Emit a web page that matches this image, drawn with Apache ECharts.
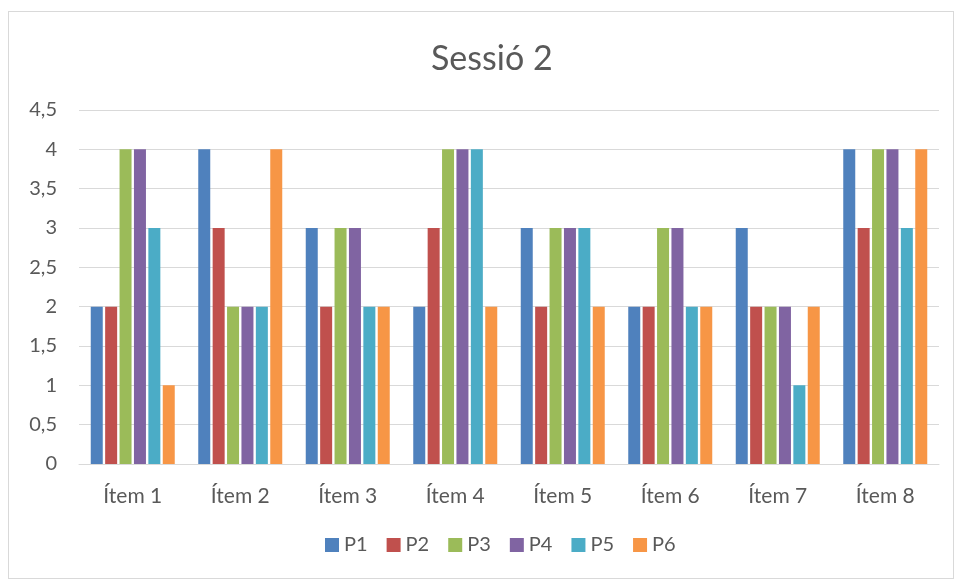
<!DOCTYPE html>
<html>
<head>
<meta charset="utf-8">
<script src="https://cdn.jsdelivr.net/npm/echarts@6/dist/echarts.min.js"></script>
<style>
  html, body { margin: 0; padding: 0; background: #fff; }
  #frame { position: absolute; left: 8px; top: 11px; width: 946px; height: 568px; border: 1px solid #d9d9d9; box-sizing: border-box; }
  #chart { position: absolute; left: 0; top: 0; width: 956px; height: 580px; }
</style>
</head>
<body>
<div id="frame"></div>
<div id="chart"></div>
<script>
const categories = ['Ítem 1', 'Ítem 2', 'Ítem 3', 'Ítem 4', 'Ítem 5', 'Ítem 6', 'Ítem 7', 'Ítem 8'];
const seriesNames = ['P1', 'P2', 'P3', 'P4', 'P5', 'P6'];
const P1 = [2, 4, 3, 2, 3, 2, 3, 4];
const P2 = [2, 3, 2, 3, 2, 2, 2, 3];
const P3 = [4, 2, 3, 4, 3, 3, 2, 4];
const P4 = [4, 2, 3, 4, 3, 3, 2, 4];
const P5 = [3, 2, 2, 4, 3, 2, 1, 3];
const P6 = [1, 4, 2, 2, 2, 2, 2, 4];
const seriesValues = [P1, P2, P3, P4, P5, P6];
const colors = ['#4F81BD', '#C0504D', '#9BBB59', '#8064A2', '#4BACC6', '#F79646'];

const font = 'Lato, "Open Sans", sans-serif';
const chart = echarts.init(document.getElementById('chart'), null, { renderer: 'canvas' });
chart.setOption({
  animation: false,
  color: colors,
  title: {
    text: 'Sessió 2',
    left: 426,
    top: 37,
    textStyle: { fontFamily: font, fontSize: 34, fontWeight: 'normal', color: '#595959' }
  },
  legend: {
    bottom: 20,
    left: 320,
    itemWidth: 14,
    itemHeight: 14,
    itemGap: 19,
    icon: 'rect',
    textStyle: { fontFamily: font, fontSize: 20, color: '#595959' },
    data: seriesNames
  },
  grid: { left: 79, right: 17, top: 110, bottom: 116, containLabel: false },
  xAxis: {
    type: 'category',
    data: categories,
    axisLine: { lineStyle: { color: '#d9d9d9', width: 1 } },
    axisTick: { show: false },
    axisLabel: { fontFamily: font, fontSize: 21, color: '#595959', margin: 22 }
  },
  yAxis: {
    type: 'value',
    min: 0,
    max: 4.5,
    interval: 0.5,
    axisLine: { show: false },
    axisTick: { show: false },
    splitLine: { lineStyle: { color: '#d9d9d9', width: 1 } },
    axisLabel: {
      fontFamily: font, fontSize: 20, color: '#595959', margin: 22,
      formatter: v => String(v).replace('.', ',')
    }
  },
  series: seriesNames.map((name, i) => ({
    name,
    type: 'bar',
    data: seriesValues[i],
    barWidth: 12,
    barGap: '20%',
    itemStyle: { color: colors[i] }
  }))
});
</script>
</body>
</html>
